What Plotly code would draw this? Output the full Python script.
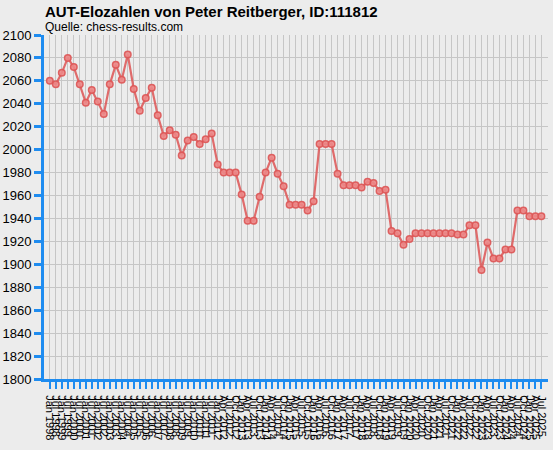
import plotly.graph_objects as go

# Rating period labels (83 lists)
periods = []
for y in range(1998, 2012):
    periods += [f"Jan {y}", f"Jul {y}"]
for y in range(2012, 2026):
    for m in ["Jan", "Apr", "Jul", "Oct"]:
        periods.append(f"{m} {y}")
periods = periods[:83]

ratings = [2060, 2057, 2067, 2080, 2072, 2057, 2041, 2052, 2042, 2031,
           2057, 2074, 2061, 2083, 2053, 2034, 2045, 2054, 2030, 2012,
           2017, 2013, 1995, 2008, 2011, 2005, 2009, 2014, 1987, 1980,
           1980, 1980, 1961, 1938, 1938, 1959, 1980, 1993, 1979, 1968,
           1952, 1952, 1952, 1947, 1955, 2005, 2005, 2005, 1979, 1969,
           1969, 1969, 1967, 1972, 1971, 1964, 1965, 1929, 1927, 1917,
           1922, 1927, 1927, 1927, 1927, 1927, 1927, 1927, 1926, 1926,
           1934, 1934, 1895, 1919, 1905, 1905, 1913, 1913, 1947, 1947,
           1942, 1942, 1942]

y_ticks = list(range(1800, 2101, 20))

title_text = "AUT-Elozahlen von Peter Reitberger, ID:111812"
subtitle_text = "Quelle: chess-results.com"

idx = list(range(len(ratings)))

W, H = 553, 450

fig = go.Figure()
fig.add_trace(go.Scatter(
    x=idx, y=ratings, mode="lines+markers",
    line=dict(color="rgba(221,85,85,0.85)", width=2.2),
    marker=dict(size=6.5, color="rgba(236,135,135,0.9)",
                line=dict(color="rgba(221,85,85,0.9)", width=1.5)),
    hoverinfo="x+y", showlegend=False,
))

fig.update_layout(
    width=W, height=H,
    margin=dict(l=44, r=5, t=35, b=71, pad=0),
    paper_bgcolor="#ececec", plot_bgcolor="#ececec",
    font=dict(family="Liberation Sans, Arial, sans-serif", color="#000000"),
    annotations=[
        dict(text="<b>" + title_text + "</b>", xref="paper", yref="paper",
             x=0.0, y=1.0, xshift=-1, yshift=34, xanchor="left", yanchor="top",
             showarrow=False, font=dict(size=15, color="#000000")),
        dict(text=subtitle_text, xref="paper", yref="paper",
             x=0.0, y=1.0, xshift=-1, yshift=17, xanchor="left", yanchor="top",
             showarrow=False, font=dict(size=12, color="#000000")),
    ],
)

fig.update_xaxes(
    range=[-0.97, 83.1], automargin=False,
    tickmode="array", tickvals=idx, ticktext=periods,
    tickangle=90, tickfont=dict(size=11, color="#000000"),
    ticklabelstandoff=4,
    showgrid=True, gridcolor="#c6c6c6", gridwidth=1.3,
    showline=True, linecolor="#1e8cf0", linewidth=3,
    ticks="outside", ticklen=7, tickwidth=2, tickcolor="#1e8cf0",
    zeroline=False, fixedrange=True,
)
fig.update_yaxes(
    range=[1800, 2100], automargin=False,
    tickmode="array", tickvals=y_ticks,
    tickfont=dict(size=13, color="#000000"),
    showgrid=True, gridcolor="#c6c6c6", gridwidth=1.3,
    showline=True, linecolor="#1e8cf0", linewidth=3,
    ticks="outside", ticklen=7, tickwidth=3, tickcolor="#1e8cf0",
    zeroline=False, fixedrange=True,
)

fig.write_html(
    "out.html",
    config={"displayModeBar": False},
    post_script="document.body.style.margin='0';document.body.style.background='#ececec';document.body.style.overflow='hidden';",
)
